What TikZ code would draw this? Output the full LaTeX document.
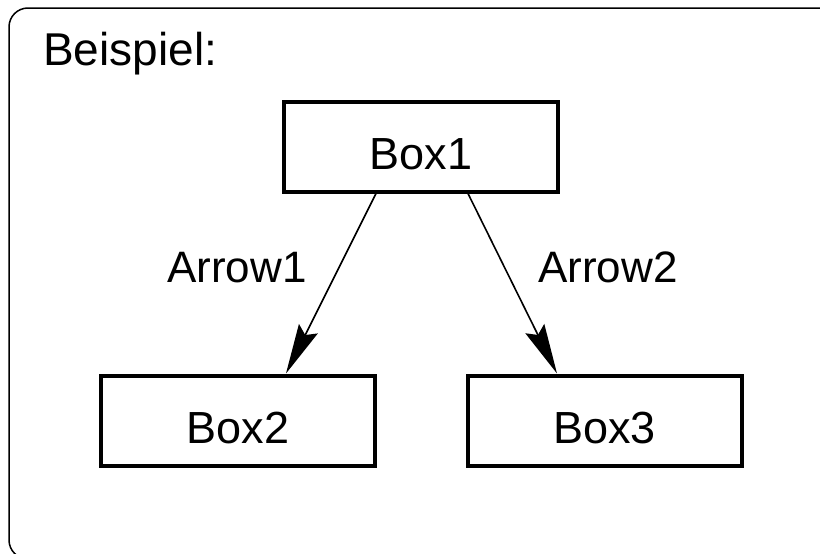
\documentclass[tikz,border=0pt]{standalone}
\usepackage{fontspec}
\setmainfont{Liberation Sans}
\usetikzlibrary{arrows.meta}
\begin{document}
\begin{tikzpicture}[x=1pt,y=-1pt,
  box/.style={draw, line width=4pt, minimum width=274pt, minimum height=90pt,
    inner sep=0pt, text height=45pt, text depth=0pt,
    font=\fontsize{45}{54}\selectfont},
  lbl/.style={anchor=base west, inner sep=0pt, font=\fontsize{44}{52}\selectfont},
  link/.style={line width=1.6pt, -{Stealth[length=50pt,width=21pt,inset=7pt]}}]
\useasboundingbox (0,0) rectangle (820,554);
\clip (0,0) rectangle (820,554);
% outer frame
\draw[line width=1.5pt, rounded corners=19pt] (9,8) rectangle (840,559);
% title
\node[lbl, font=\fontsize{46}{54}\selectfont] (title) at (43,65) {Beispiel:};
% boxes
\node[box] (b1) at (421,146.5) {Box1};
\node[box] (b2) at (238,420.5) {Box2};
\node[box] (b3) at (604.5,420.5) {Box3};
% connectors
\draw[link] ([xshift=-45pt]b1.south) -- ([xshift=48pt]b2.north);
\draw[link] ([xshift=47pt]b1.south) -- ([xshift=-47.5pt]b3.north);
% connector labels
\node[lbl] (a1) at (167,282) {Arrow1};
\node[lbl] (a2) at (538,282) {Arrow2};
\end{tikzpicture}
\end{document}
